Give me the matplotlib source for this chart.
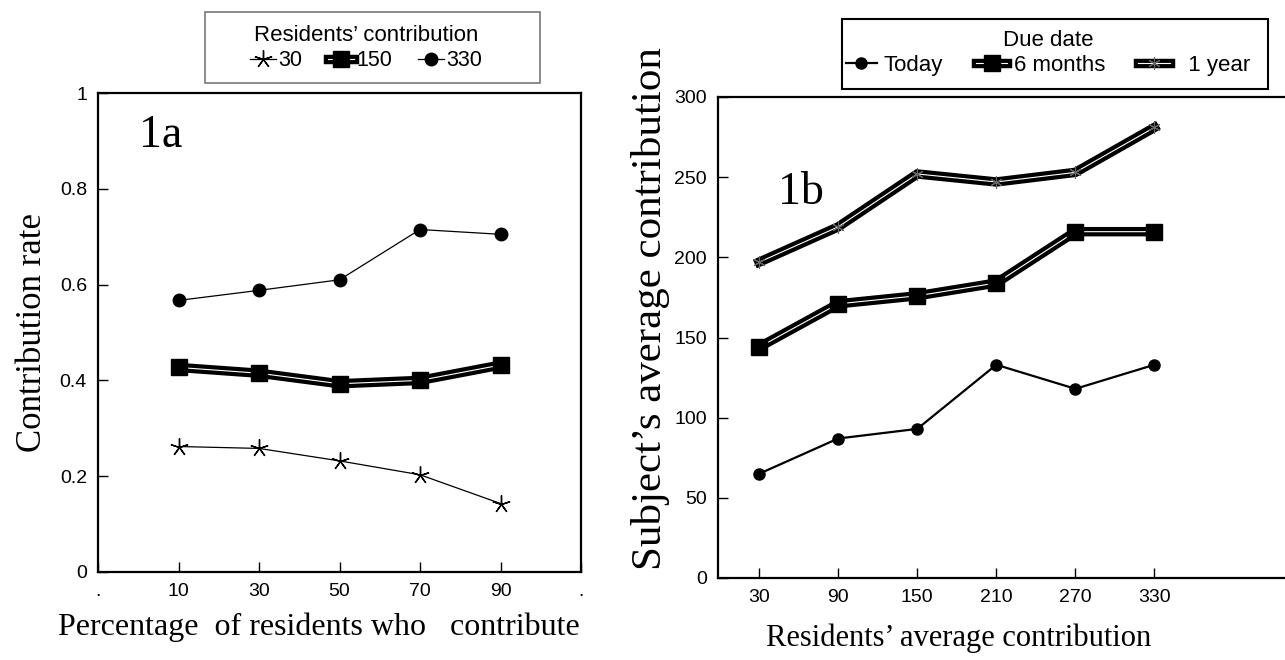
import matplotlib
matplotlib.use("Agg")
import matplotlib.pyplot as plt
from matplotlib.legend_handler import HandlerTuple
from matplotlib.patches import Rectangle
import matplotlib.patheffects as pe

# ---------------- data ----------------
pct_contribute = [10, 30, 50, 70, 90]
rate_30 = [0.262, 0.258, 0.232, 0.203, 0.143]
rate_150 = [0.427, 0.415, 0.393, 0.400, 0.432]
rate_330 = [0.567, 0.588, 0.610, 0.715, 0.705]

avg_contrib_labels = ["30", "90", "150", "210", "270", "330"]
today = [65, 87, 93, 133, 118, 133]
six_months = [144, 171, 176, 184, 216, 216]
one_year = [197, 219, 252, 247, 253, 281]

left_xticks = [-10, 10, 30, 50, 70, 90, 110]
left_xticklabels = [".", "10", "30", "50", "70", "90", "."]
left_yticks = [0, 0.2, 0.4, 0.6, 0.8, 1]
left_yticklabels = ["0", "0.2", "0.4", "0.6", "0.8", "1"]
right_yticks = [0, 50, 100, 150, 200, 250, 300]

SANS = "Liberation Sans"
SERIF = "Liberation Serif"
W, H = 1285, 660

fig = plt.figure(figsize=(12.85, 6.6), dpi=100)


def fx(px):
    return px / W


def fy(py):
    return 1 - py / H


def style_axes(ax):
    for s in ax.spines.values():
        s.set_linewidth(1.6)
        s.set_color("black")
    ax.tick_params(direction="in", length=7, width=1.0, labelsize=14, pad=8)
    for lab in ax.get_xticklabels() + ax.get_yticklabels():
        lab.set_fontfamily(SANS)


def double_line(ax, x, y, marker, ms, mfc="black", mec="black", mew=1.0, zo=3):
    ln, = ax.plot(x, y, color="white", lw=0.8, solid_joinstyle="miter",
                  path_effects=[pe.Stroke(linewidth=6.8, foreground="black"), pe.Normal()],
                  zorder=zo)
    mk, = ax.plot(x, y, ls="none", marker=marker, ms=ms, mfc=mfc, mec=mec, mew=mew, zorder=zo + 1)
    return (ln, mk)


# ---------------- left panel ----------------
ax1 = fig.add_axes([fx(98), fy(572), fx(581 - 98), (572 - 93) / H])
h30, = ax1.plot(pct_contribute, rate_30, color="black", lw=0.9, marker=(5, 2, 0), ms=13, mew=1.0)
h150 = double_line(ax1, pct_contribute, rate_150, "s", 11)
h330, = ax1.plot(pct_contribute, rate_330, color="black", lw=0.9, marker="o", ms=9)
ax1.set_xlim(-10, 110)
ax1.set_ylim(0, 1)
ax1.set_xticks(left_xticks)
ax1.set_xticklabels(left_xticklabels)
ax1.set_yticks(left_yticks)
ax1.set_yticklabels(left_yticklabels)
style_axes(ax1)
ax1.set_ylabel("Contribution rate", fontfamily=SERIF, fontsize=25, labelpad=8)
ax1.set_xlabel("Percentage  of residents who   contribute", fontfamily=SERIF, fontsize=23)
ax1.xaxis.set_label_coords(0.458, -0.085)
ax1.text(0.085, 0.955, "1a", transform=ax1.transAxes, fontfamily=SERIF, fontsize=33, va="top")

fig.patches.append(Rectangle((fx(205), fy(83)), fx(540 - 205), (83 - 12) / H,
                             transform=fig.transFigure, fill=False, edgecolor="#777777", lw=1.2))
leg1 = fig.legend([h30, h150, h330], ["30", "150", "330"], title="Residents’ contribution",
                  loc="center", bbox_to_anchor=(fx(366), fy(48)), ncol=3,
                  prop={"family": SANS, "size": 15.5}, title_fontproperties={"family": SANS, "size": 16},
                  frameon=False, handlelength=1.2, handletextpad=0.1, columnspacing=1.2,
                  borderpad=0.0, labelspacing=0.2,
                  handler_map={tuple: HandlerTuple(ndivide=1)})

# ---------------- right panel ----------------
ax2 = fig.add_axes([fx(718), fy(578), fx(1292 - 718), (578 - 97) / H])
xpos = list(range(1, len(avg_contrib_labels) + 1))
ht, = ax2.plot(xpos, today, color="black", lw=1.6, marker="o", ms=8)
h6 = double_line(ax2, xpos, six_months, "s", 11)
h1 = double_line(ax2, xpos, one_year, (6, 2, 0), 9, mec="#666666", mew=0.8, zo=5)
ax2.set_xlim(0.48, 7.74)
ax2.set_ylim(0, 300)
ax2.set_xticks(xpos)
ax2.set_xticklabels(avg_contrib_labels)
ax2.set_yticks(right_yticks)
style_axes(ax2)
ax2.spines["right"].set_visible(False)
ax2.set_ylabel("Subject’s average contribution", fontfamily=SERIF, fontsize=31)
ax2.yaxis.set_label_coords(-0.083, 0.56)
ax2.set_xlabel("Residents’ average contribution", fontfamily=SERIF, fontsize=22)
ax2.xaxis.set_label_coords(0.42, -0.095)
ax2.text(0.105, 0.845, "1b", transform=ax2.transAxes, fontfamily=SERIF, fontsize=33, va="top")

fig.patches.append(Rectangle((fx(842), fy(89)), fx(1268 - 842), (89 - 19) / H,
                             transform=fig.transFigure, fill=False, edgecolor="black", lw=1.5))
leg2 = fig.legend([ht, h6, h1], ["Today", "6 months", "  1 year"], title="Due date",
                  loc="center", bbox_to_anchor=(fx(1048), fy(53)), ncol=3,
                  prop={"family": SANS, "size": 16}, title_fontproperties={"family": SANS, "size": 16},
                  frameon=False, handlelength=1.4, handletextpad=0.3, columnspacing=1.5,
                  borderpad=0.0, labelspacing=0.2,
                  handler_map={tuple: HandlerTuple(ndivide=1)})

fig.savefig("out.png", dpi=100)
